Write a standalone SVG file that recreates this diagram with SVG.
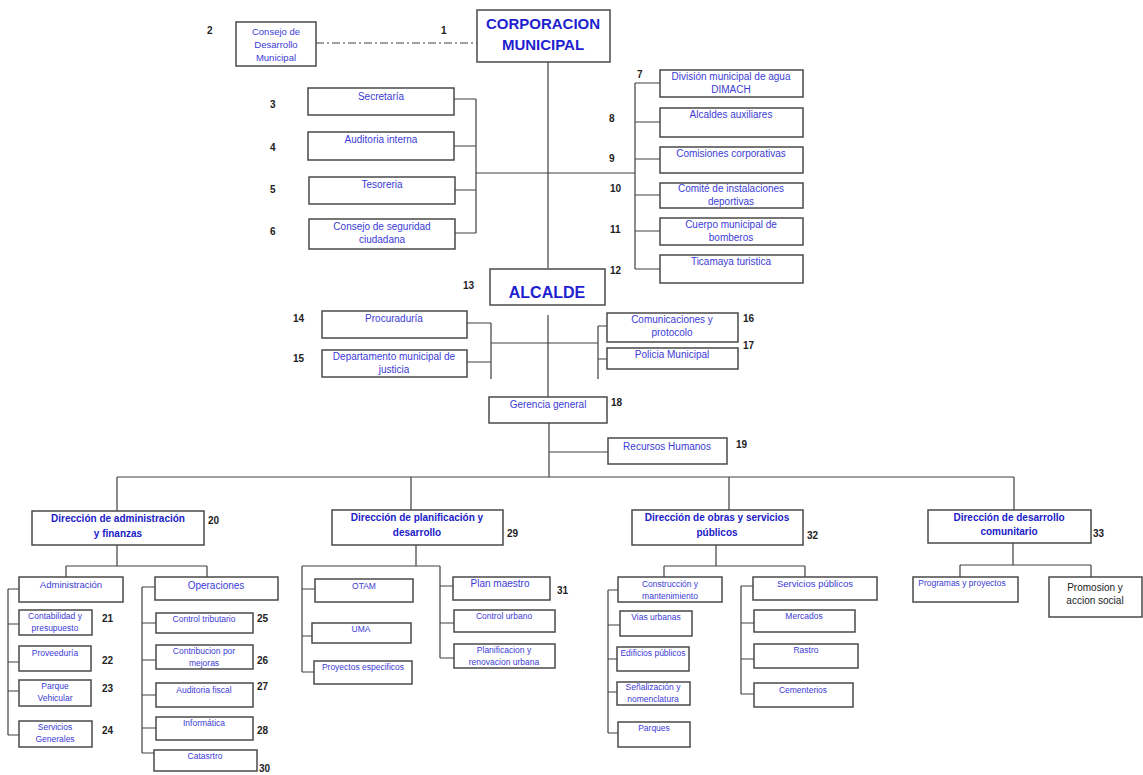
<svg xmlns="http://www.w3.org/2000/svg" width="1143" height="775" viewBox="0 0 1143 775">
<style>
.b{fill:#fff;stroke:#4a4a4a;stroke-width:1.5}
.l{stroke:#404040;stroke-width:1.2;fill:none}
.t{font-family:"Liberation Sans",Arial,sans-serif;fill:#3b3bd6;text-anchor:middle;font-size:10px}
.s{font-size:8.5px}
.m{font-size:9.5px}
.h{font-family:"Liberation Sans",Arial,sans-serif;fill:#2020c8;text-anchor:middle;font-weight:bold;font-size:10px}
.H{font-family:"Liberation Sans",Arial,sans-serif;fill:#1f1fd0;text-anchor:middle;font-weight:bold;font-size:15px}
.n{font-family:"Liberation Sans",Arial,sans-serif;fill:#222;font-weight:bold;font-size:10px}
</style>
<rect width="1143" height="775" fill="#fff"/>
<g id="connectors">
<line class="l" x1="316" y1="43" x2="477" y2="43" stroke-dasharray="8,3,2,3"/>
<path class="l" d="M548 62V268M454 99H476M454 146H476M455 190H476M455 233H476M476 99V233M476 173H635M635 83V269M635 83H660M635 122H660M635 159H660M635 195H660M635 231H660M635 269H660"/>
<path class="l" d="M548 315V397M467 323H491M467 362H491M491 323V379M491 343H598M598 326V379M598 326H607M598 359H607"/>
<path class="l" d="M549 423V477M549 452H608M117 477H1014M117 477V511M411 477V510M729 477V510M1014 477V510"/>
<path class="l" d="M117 545V566M66 566H207M66 566V577M207 566V577M8 589V735M8 589H19M8 624H19M8 662H19M8 691H19M8 735H19M142 587V753M142 587H155M142 623H156M142 660H156M142 695H156M142 728H156M142 753H154"/>
<path class="l" d="M416 545V566M302 566H440M302 566V672M302 589H315M302 636H312M302 672H314M440 566V658M440 586H453M440 623H454M440 658H454"/>
<path class="l" d="M716 545V566M664 566H805M664 566V577M805 566V577M608 590V733M608 590H618M608 625H620M608 659H617M608 692H617M608 733H618M741 586V694M741 586H753M741 623H754M741 659H754M741 694H754"/>
<path class="l" d="M1013 543V565M960 565H1091M960 565V577M1091 565V577"/>
</g>
<g id="n1"><rect class="b" x="477" y="10" width="133" height="52"/><text class="H" x="543" y="29">CORPORACION</text><text class="H" x="543" y="50">MUNICIPAL</text><text class="n" x="441" y="34">1</text></g>
<g id="n2"><rect class="b" x="236" y="22" width="80" height="44"/><text class="t m" x="276" y="35">Consejo de</text><text class="t m" x="276" y="48">Desarrollo</text><text class="t m" x="276" y="61">Municipal</text><text class="n" x="207" y="34">2</text></g>
<g id="n3"><rect class="b" x="308" y="88" width="146" height="27"/><text class="t" x="381" y="100">Secretaría</text><text class="n" x="270" y="108">3</text></g>
<g id="n4"><rect class="b" x="308" y="132" width="146" height="28"/><text class="t" x="381" y="143">Auditoria interna</text><text class="n" x="270" y="151">4</text></g>
<g id="n5"><rect class="b" x="309" y="177" width="146" height="27"/><text class="t" x="382" y="188">Tesoreria</text><text class="n" x="270" y="193">5</text></g>
<g id="n6"><rect class="b" x="309" y="219" width="146" height="30"/><text class="t" x="382" y="230">Consejo de seguridad</text><text class="t" x="382" y="243">ciudadana</text><text class="n" x="270" y="235">6</text></g>
<g id="n7"><rect class="b" x="660" y="70" width="143" height="27"/><text class="t" x="731" y="80">División municipal de agua</text><text class="t" x="731" y="93">DIMACH</text><text class="n" x="637" y="78">7</text></g>
<g id="n8"><rect class="b" x="660" y="108" width="143" height="29"/><text class="t" x="731" y="118">Alcaldes auxiliares</text><text class="n" x="609" y="122">8</text></g>
<g id="n9"><rect class="b" x="660" y="147" width="143" height="26"/><text class="t" x="731" y="157">Comisiones corporativas</text><text class="n" x="609" y="162">9</text></g>
<g id="n10"><rect class="b" x="660" y="183" width="143" height="25"/><text class="t" x="731" y="192">Comité de instalaciones</text><text class="t" x="731" y="205">deportivas</text><text class="n" x="610" y="192">10</text></g>
<g id="n11"><rect class="b" x="660" y="218" width="143" height="27"/><text class="t" x="731" y="228">Cuerpo municipal de</text><text class="t" x="731" y="241">bomberos</text><text class="n" x="610" y="233">11</text></g>
<g id="n12"><rect class="b" x="660" y="255" width="143" height="28"/><text class="t" x="731" y="265">Ticamaya turistica</text><text class="n" x="610" y="274">12</text></g>
<g id="n13"><rect class="b" x="490" y="269" width="115" height="36"/><text class="H" x="547" y="298" style="font-size:16px">ALCALDE</text><text class="n" x="463" y="289">13</text></g>
<g id="n14"><rect class="b" x="322" y="311" width="145" height="27"/><text class="t" x="394" y="322">Procuraduría</text><text class="n" x="293" y="322">14</text></g>
<g id="n15"><rect class="b" x="322" y="350" width="145" height="27"/><text class="t" x="394" y="360">Departamento municipal de</text><text class="t" x="394" y="373">justicia</text><text class="n" x="293" y="362">15</text></g>
<g id="n16"><rect class="b" x="607" y="313" width="131" height="29"/><text class="t" x="672" y="323">Comunicaciones y</text><text class="t" x="672" y="336">protocolo</text><text class="n" x="743" y="322">16</text></g>
<g id="n17"><rect class="b" x="607" y="348" width="131" height="21"/><text class="t" x="672" y="358">Policia Municipal</text><text class="n" x="743" y="349">17</text></g>
<g id="n18"><rect class="b" x="489" y="397" width="118" height="26"/><text class="t" x="548" y="408">Gerencia general</text><text class="n" x="611" y="406">18</text></g>
<g id="n19"><rect class="b" x="608" y="438" width="119" height="26"/><text class="t" x="667" y="450">Recursos Humanos</text><text class="n" x="736" y="448">19</text></g>
<g id="n20"><rect class="b" x="32" y="511" width="172" height="34"/><text class="h" x="118" y="522">Dirección de administración</text><text class="h" x="118" y="537">y finanzas</text><text class="n" x="208" y="524">20</text></g>
<g id="n20a"><rect class="b" x="19" y="577" width="104" height="25"/><text class="t m" x="71" y="588">Administración</text></g>
<g id="n20b"><rect class="b" x="155" y="577" width="123" height="23"/><text class="t" x="216" y="589">Operaciones</text></g>
<g id="n21"><rect class="b" x="19" y="610" width="73" height="25"/><text class="t s" x="55" y="619">Contabilidad y</text><text class="t s" x="55" y="631">presupuesto</text><text class="n" x="102" y="622">21</text></g>
<g id="n22"><rect class="b" x="19" y="646" width="72" height="25"/><text class="t s" x="55" y="656">Proveeduría</text><text class="n" x="102" y="664">22</text></g>
<g id="n23"><rect class="b" x="19" y="680" width="72" height="26"/><text class="t s" x="55" y="689">Parque</text><text class="t s" x="55" y="701">Vehicular</text><text class="n" x="102" y="692">23</text></g>
<g id="n24"><rect class="b" x="19" y="721" width="73" height="26"/><text class="t s" x="55" y="730">Servicios</text><text class="t s" x="55" y="742">Generales</text><text class="n" x="102" y="734">24</text></g>
<g id="n25"><rect class="b" x="156" y="613" width="97" height="20"/><text class="t s" x="204" y="622">Control tributario</text><text class="n" x="257" y="622">25</text></g>
<g id="n26"><rect class="b" x="156" y="645" width="97" height="24"/><text class="t s" x="204" y="654">Contribucion por</text><text class="t s" x="204" y="666">mejoras</text><text class="n" x="257" y="664">26</text></g>
<g id="n27"><rect class="b" x="156" y="683" width="97" height="24"/><text class="t s" x="204" y="693">Auditoria fiscal</text><text class="n" x="257" y="690">27</text></g>
<g id="n28"><rect class="b" x="156" y="717" width="97" height="23"/><text class="t s" x="204" y="726">Informática</text><text class="n" x="257" y="734">28</text></g>
<g id="n30"><rect class="b" x="154" y="750" width="103" height="21"/><text class="t s" x="205" y="759">Catasrtro</text><text class="n" x="259" y="772">30</text></g>
<g id="n29"><rect class="b" x="332" y="510" width="171" height="35"/><text class="h" x="417" y="521">Dirección de planificación y</text><text class="h" x="417" y="536">desarrollo</text><text class="n" x="507" y="537">29</text></g>
<g id="n29a"><rect class="b" x="315" y="579" width="98" height="23"/><text class="t s" x="364" y="589">OTAM</text></g>
<g id="n29b"><rect class="b" x="312" y="623" width="99" height="20"/><text class="t s" x="361" y="632">UMA</text></g>
<g id="n29c"><rect class="b" x="314" y="661" width="98" height="23"/><text class="t s" x="363" y="670">Proyectos especificos</text></g>
<g id="n31"><rect class="b" x="453" y="577" width="97" height="23"/><text class="t" x="500" y="587">Plan maestro</text><text class="n" x="557" y="594">31</text></g>
<g id="n31a"><rect class="b" x="454" y="610" width="101" height="22"/><text class="t s" x="504" y="619">Control urbano</text></g>
<g id="n31b"><rect class="b" x="454" y="644" width="101" height="24"/><text class="t s" x="504" y="653">Planificacion y</text><text class="t s" x="504" y="665">renovacion urbana</text></g>
<g id="n32"><rect class="b" x="632" y="510" width="171" height="35"/><text class="h" x="717" y="521">Dirección de obras y servicios</text><text class="h" x="717" y="536">públicos</text><text class="n" x="807" y="539">32</text></g>
<g id="n32a"><rect class="b" x="618" y="577" width="104" height="25"/><text class="t s" x="670" y="587">Construcción y</text><text class="t s" x="670" y="599">mantenimiento</text></g>
<g id="n32b"><rect class="b" x="753" y="577" width="124" height="23"/><text class="t m" x="815" y="587">Servicios públicos</text></g>
<g id="n32c"><rect class="b" x="620" y="611" width="72" height="25"/><text class="t s" x="656" y="620">Vias urbanas</text></g>
<g id="n32d"><rect class="b" x="617" y="647" width="72" height="24"/><text class="t s" x="653" y="656">Edificios públicos</text></g>
<g id="n32e"><rect class="b" x="617" y="682" width="73" height="23"/><text class="t s" x="653" y="690">Señalización y</text><text class="t s" x="653" y="702">nomenclatura</text></g>
<g id="n32f"><rect class="b" x="618" y="722" width="72" height="25"/><text class="t s" x="654" y="731">Parques</text></g>
<g id="n32g"><rect class="b" x="754" y="610" width="101" height="22"/><text class="t s" x="804" y="619">Mercados</text></g>
<g id="n32h"><rect class="b" x="754" y="644" width="104" height="24"/><text class="t s" x="806" y="653">Rastro</text></g>
<g id="n32i"><rect class="b" x="754" y="683" width="99" height="24"/><text class="t s" x="803" y="693">Cementerios</text></g>
<g id="n33"><rect class="b" x="928" y="510" width="163" height="33"/><text class="h" x="1009" y="521">Dirección de desarrollo</text><text class="h" x="1009" y="535">comunitario</text><text class="n" x="1093" y="537">33</text></g>
<g id="n33a"><rect class="b" x="913" y="577" width="105" height="25"/><text class="t s" x="962" y="586">Programas y proyectos</text></g>
<g id="n33b"><rect class="b" x="1049" y="577" width="93" height="40"/><text class="t" x="1095" y="591" style="fill:#222">Promosion y</text><text class="t" x="1095" y="604" style="fill:#222">accion social</text></g>
</svg>
